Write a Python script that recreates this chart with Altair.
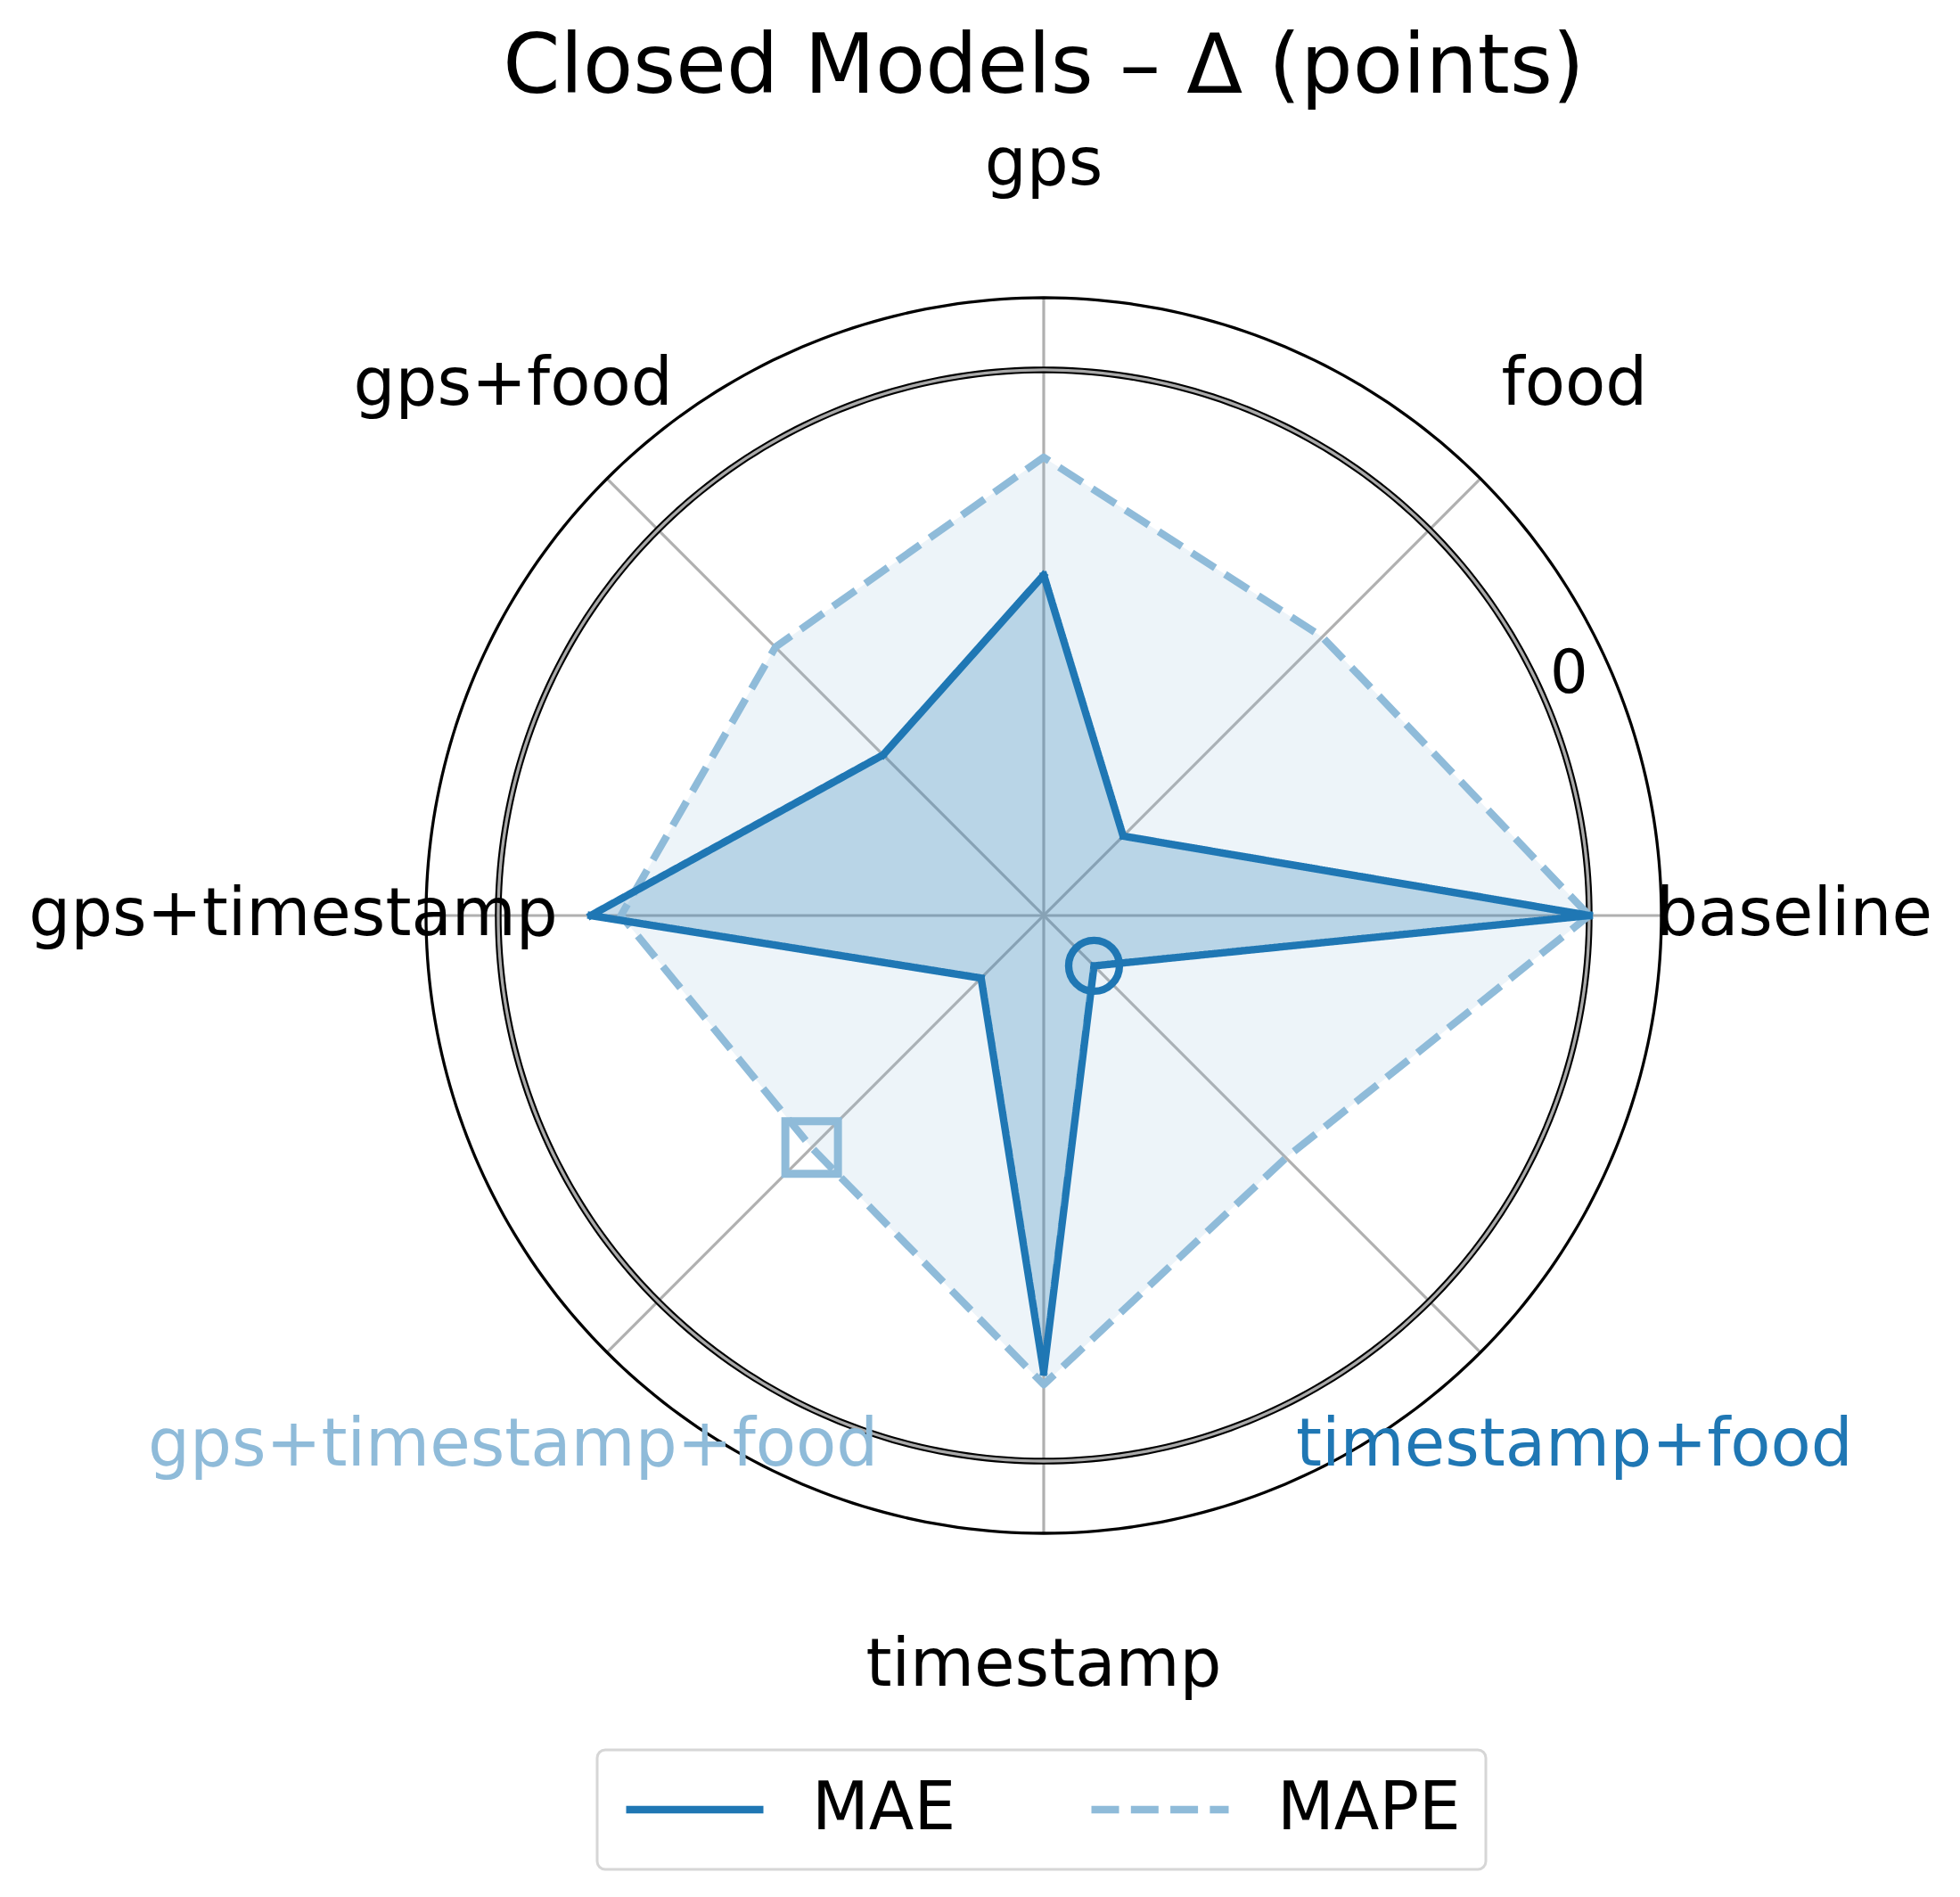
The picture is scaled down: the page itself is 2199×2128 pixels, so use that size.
import altair as alt
import pandas as pd

# ---------------- data ----------------
categories = ["baseline", "food", "gps", "gps+food", "gps+timestamp",
              "gps+timestamp+food", "timestamp", "timestamp+food"]
metrics = ["MAE", "MAPE"]
mae_delta = [0.0, -6.00, -2.84, -4.41, -1.28, -6.33, -1.23, -6.57]
mape_delta = [0.0, -2.10, -1.21, -2.30, -1.70, -3.01, -1.06, -2.81]
r_ticks = [0]

# ---------------- styling / geometry ----------------
FONT = "DejaVu Sans"
MAE_C = "#1f77b4"
MAPE_C = "#8fbbd9"
VMIN, VMAX = -7.556, 1.0          # radial axis: centre .. outer frame
RLAB = 1.215                      # radius (frame units) of category labels
W, H = 2183, 1950
PAD_TOP = 160
XMIN, XMAX = -1.6782, 1.4719
YMIN, YMAX = -1.5743, 1.2395
LW = 8.3

N = len(categories)
rows = []
for m, vals in zip(metrics, [mae_delta, mape_delta]):
    for i, (c, v) in enumerate(zip(categories, vals)):
        rows.append({"metric": m, "cat": c, "idx": i, "value": v})
    rows.append({"metric": m, "cat": categories[0], "idx": N, "value": vals[0]})
df = pd.DataFrame(rows)

best_mae = categories[mae_delta.index(min(mae_delta))]
best_mape = categories[mape_delta.index(min(mape_delta))]

xs = alt.Scale(domain=[XMIN, XMAX], nice=False, zero=False)
ys = alt.Scale(domain=[YMIN, YMAX], nice=False, zero=False)
RN = f"(datum.value - ({VMIN})) / ({VMAX} - ({VMIN}))"
TH = f"datum.idx * 2 * PI / {N}"

base = alt.Chart(df).transform_calculate(
    theta=TH, rn=RN
).transform_calculate(
    x="datum.rn * cos(datum.theta)", y="datum.rn * sin(datum.theta)"
)

def X():
    return alt.X("x:Q", scale=xs, axis=None)

def Y():
    return alt.Y("y:Q", scale=ys, axis=None)

# spokes
cat_df = pd.DataFrame({"cat": categories, "idx": list(range(N))})
spokes = alt.Chart(cat_df).transform_calculate(
    theta=TH
).transform_calculate(
    x0="0", y0="0", x="cos(datum.theta)", y="sin(datum.theta)"
).mark_rule(color="#b0b0b0", strokeWidth=3.2).encode(
    x=alt.X("x0:Q", scale=xs, axis=None), y=alt.Y("y0:Q", scale=ys, axis=None),
    x2="x:Q", y2="y:Q"
)

# circles (zero ring and outer frame)
def ring(r_expr, color, width):
    return alt.Chart(alt.sequence(0, 361, 1, as_="deg")).transform_calculate(
        x=f"({r_expr}) * cos(datum.deg * PI / 180)",
        y=f"({r_expr}) * sin(datum.deg * PI / 180)",
    ).mark_line(color=color, strokeWidth=width).encode(x=X(), y=Y(), order="deg:Q")

r0_expr = f"({r_ticks[0]} - ({VMIN})) / ({VMAX} - ({VMIN}))"
ring0_black = ring(r0_expr, "black", 7.5)
ring0_gray = ring(r0_expr, "#a9a9a9", 3.3)
outer = ring("1", "black", 3.3)

# fills
fill_mape = base.transform_filter("datum.metric == 'MAPE'").mark_line(
    filled=True, fill=MAPE_C, fillOpacity=0.16, strokeWidth=0
).encode(x=X(), y=Y(), order="idx:Q")
fill_mae = base.transform_filter("datum.metric == 'MAE'").mark_line(
    filled=True, fill=MAE_C, fillOpacity=0.25, strokeWidth=0
).encode(x=X(), y=Y(), order="idx:Q")

legend = alt.Legend(
    orient="none", legendX=662, legendY=1963 - 8 - PAD_TOP, direction="horizontal",
    title=None, symbolType="stroke", symbolSize=23716, symbolStrokeWidth=LW,
    labelFontSize=74, labelFont=FONT, labelColor="black", labelOffset=50,
    labelLimit=500, clipHeight=78,
    columnPadding=147, padding=28, strokeColor="#d6d6d6", cornerRadius=9,
    fillColor="white", symbolOpacity=1
)
color_enc = alt.Color("metric:N", scale=alt.Scale(domain=metrics, range=[MAE_C, MAPE_C]),
                      legend=legend)
dash_enc = alt.StrokeDash("metric:N", scale=alt.Scale(domain=metrics, range=[[1, 0], [31, 13.3]]),
                          legend=legend)

line_mape = base.transform_filter("datum.metric == 'MAPE'").mark_line(
    strokeWidth=LW, strokeJoin="round", strokeCap="butt"
).encode(x=X(), y=Y(), order="idx:Q", color=color_enc, strokeDash=dash_enc)
line_mae = base.transform_filter("datum.metric == 'MAE'").mark_line(
    strokeWidth=LW, strokeJoin="round", strokeCap="square"
).encode(x=X(), y=Y(), order="idx:Q", color=color_enc, strokeDash=dash_enc)

# markers on the best (lowest) category per metric
best = base.transform_filter(f"datum.idx < {N}").transform_joinaggregate(
    vmin="min(value)", groupby=["metric"]
).transform_filter("datum.value == datum.vmin")
mark_mae = best.transform_filter("datum.metric == 'MAE'").mark_point(
    shape="circle", filled=False, size=3249, strokeWidth=LW, color=MAE_C, opacity=1
).encode(x=X(), y=Y())
mark_mape = best.transform_filter("datum.metric == 'MAPE'").mark_point(
    shape="square", filled=False, size=3481, strokeWidth=9, color=MAPE_C, opacity=1
).encode(x=X(), y=Y())

# category labels
labels = alt.Chart(cat_df).transform_calculate(
    theta=TH
).transform_calculate(
    x=f"{RLAB} * cos(datum.theta)", y=f"{RLAB} * sin(datum.theta)",
    lc=f"datum.cat == '{best_mae}' ? '{MAE_C}' : (datum.cat == '{best_mape}' ? '{MAPE_C}' : 'black')"
).mark_text(font=FONT, fontSize=74, align="center", baseline="middle").encode(
    x=X(), y=Y(), text="cat:N", color=alt.Color("lc:N", scale=None)
)

# radial tick label
rtick = alt.Chart(pd.DataFrame({"value": r_ticks})).transform_calculate(
    rn=RN
).transform_calculate(
    x="(datum.rn + 0.052) * cos(24.6 * PI / 180)",
    y="(datum.rn + 0.052) * sin(24.6 * PI / 180)",
    lab="format(datum.value, 'd')"
).mark_text(font=FONT, fontSize=67, align="center", baseline="middle", color="black").encode(
    x=X(), y=Y(), text="lab:N"
)

chart = alt.layer(
    spokes, outer, ring0_black, ring0_gray, fill_mape, fill_mae,
    line_mape, line_mae, mark_mae, mark_mape, labels, rtick
).properties(
    width=W, height=H,
    title=alt.Title("Closed Models – Δ (points)", font=FONT, fontSize=92, fontWeight="normal",
                    anchor="middle", frame="group", dx=71.5, dy=114, baseline="alphabetic",
                    offset=66, color="black"),
    autosize=alt.AutoSizeParams(type="none"),
    padding={"left": 0, "top": PAD_TOP, "right": 0, "bottom": 0},
    background="white",
).configure_view(strokeWidth=0).configure_legend(strokeWidth=3)

chart.save("out.html", embed_options={"renderer": "svg", "actions": False})
